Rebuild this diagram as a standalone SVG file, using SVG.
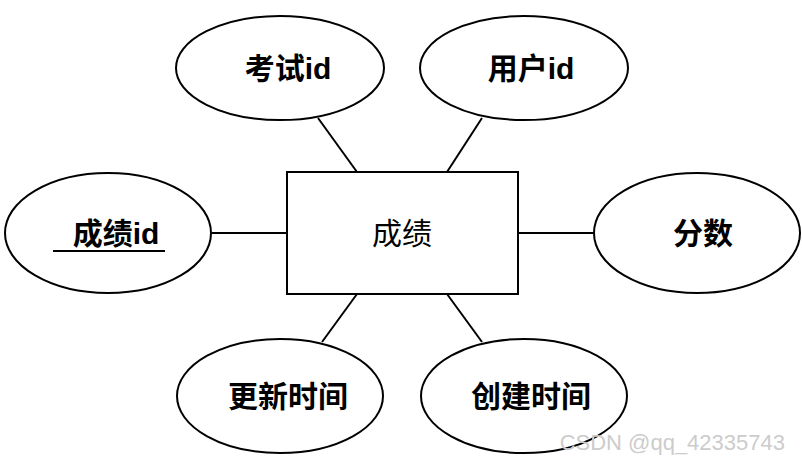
<svg xmlns="http://www.w3.org/2000/svg" width="802" height="465" viewBox="0 0 802 465">
<style>
.n{fill:#fff;stroke:#000;stroke-width:2}
.t{font-family:"Liberation Sans","Noto Sans CJK SC",sans-serif;font-size:30px;font-weight:bold;text-anchor:middle;dominant-baseline:central}
.c line{stroke:#000;stroke-width:2}
</style>
<rect width="802" height="465" fill="#fff"/>
<g class="c">
<line x1="357" y1="172" x2="318" y2="118"/>
<line x1="447" y1="172" x2="482" y2="118"/>
<line x1="212" y1="233" x2="287" y2="233"/>
<line x1="518" y1="233" x2="593" y2="233"/>
<line x1="357" y1="294" x2="322" y2="342"/>
<line x1="447" y1="294" x2="482" y2="342"/>
</g>
<g id="center"><rect class="n" x="287" y="172" width="231" height="122"/><text class="t" x="402" y="233" style="font-weight:normal">成绩</text></g>
<g id="kaoshiid"><ellipse class="n" cx="280" cy="68" rx="104" ry="52"/><text class="t" x="288" y="68">考试id</text></g>
<g id="yonghuid"><ellipse class="n" cx="524" cy="68" rx="104" ry="52"/><text class="t" x="531" y="68">用户id</text></g>
<g id="chengjiid"><ellipse class="n" cx="108" cy="233" rx="103" ry="60"/><text class="t" x="116" y="233">成绩id</text><line x1="53" y1="251" x2="165" y2="251" stroke="#000" stroke-width="2"/></g>
<g id="fenshu"><ellipse class="n" cx="697" cy="233" rx="103" ry="60"/><text class="t" x="703" y="233">分数</text></g>
<g id="gengxin"><ellipse class="n" cx="280" cy="396" rx="103" ry="57"/><text class="t" x="288" y="396">更新时间</text></g>
<g id="chuangjian"><ellipse class="n" cx="524" cy="396" rx="103" ry="57"/><text class="t" x="531" y="396">创建时间</text></g>
<text x="785" y="450" font-family="Liberation Sans,sans-serif" font-size="22" fill="#ccc" text-anchor="end">CSDN @qq_42335743</text>
</svg>
